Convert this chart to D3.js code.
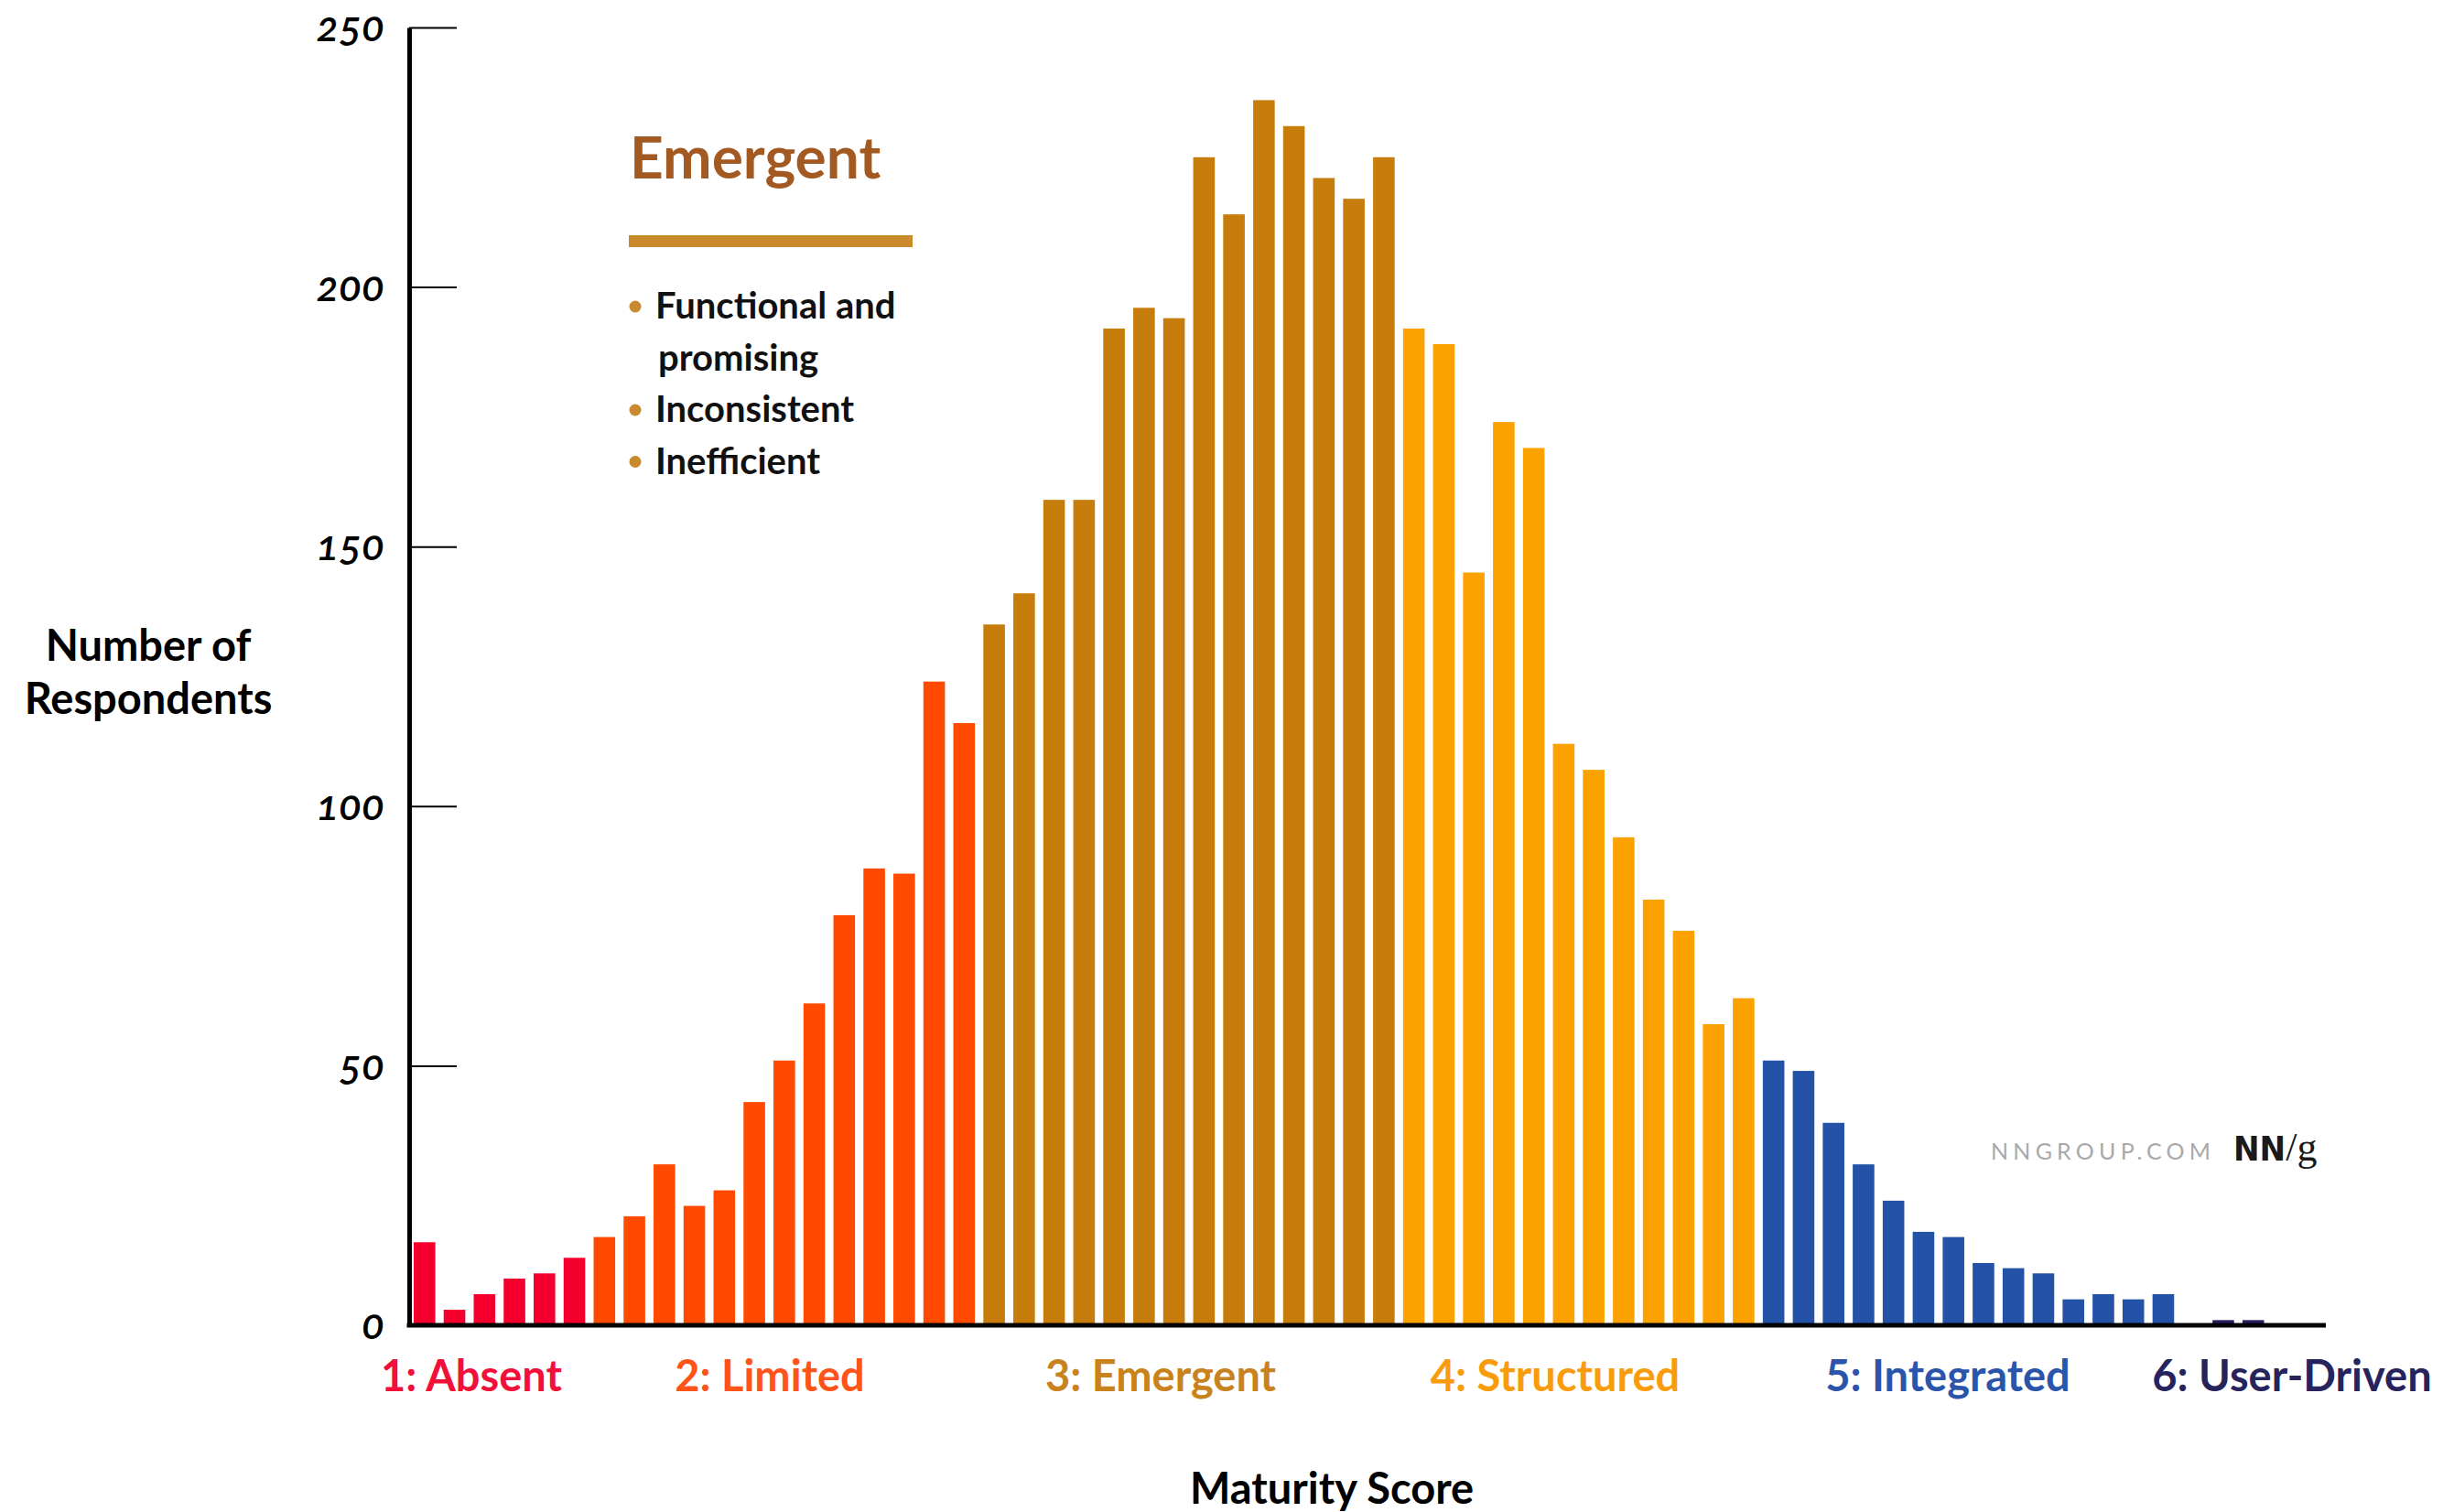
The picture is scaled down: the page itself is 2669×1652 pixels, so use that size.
<!DOCTYPE html>
<html>
<head>
<meta charset="utf-8">
<script src="https://cdn.jsdelivr.net/npm/d3@7"></script>
<style>
  html, body { margin: 0; padding: 0; background: #ffffff; }
  svg { display: block; }
</style>
</head>
<body>
<svg id="chart" width="2669" height="1652"></svg>
<script>
// ---------------- DATA ----------------
const values = [16, 3, 6, 9, 10, 13, 17, 21, 31, 23, 26, 43, 51, 62, 79, 88, 87, 124, 116,
  135, 141, 159, 159, 192, 196, 194, 225, 214, 236, 231, 221, 217, 225,
  192, 189, 145, 174, 169, 112, 107, 94, 82, 76, 58, 63,
  51, 49, 39, 31, 24, 18, 17, 12, 11, 10, 5, 6, 5, 6,
  0, 1, 1];
const levelNames = ["1: Absent", "2: Limited", "3: Emergent", "4: Structured", "5: Integrated", "6: User-Driven"];
const levelSizes = [6, 13, 14, 12, 14, 3];
const barColors = ["#f5002e", "#ff4a00", "#c67d0b", "#fba200", "#2352a6", "#241f5c"];
const labelColors = ["#f0103a", "#ff5419", "#c8831c", "#f99c0c", "#2a55ab", "#27235d"];
const yTicks = [0, 50, 100, 150, 200, 250];
const legendTitle = "Emergent";
const legendItems = [["Functional and", "promising"], ["Inconsistent"], ["Inefficient"]];

// ---------------- LAYOUT ----------------
const W = 2669, H = 1652;
const axisX = 447, axisY = 1448, topY = 30, axisEnd = 2541;
const labelCenters = [515, 841, 1268, 1699, 2128, 2504];
const FONT = "Lato, 'Open Sans', 'DejaVu Sans', sans-serif";

const svg = d3.select("#chart");

// level index per bar
const levelOfBar = [];
levelSizes.forEach((n, li) => { for (let k = 0; k < n; k++) levelOfBar.push(li); });
const bars = values.map((v, i) => ({ i, v, level: levelOfBar[i] }));

const x = d3.scaleBand()
  .domain(d3.range(values.length))
  .range([452, 2473.5])
  .paddingInner(0.28)
  .paddingOuter(0);

const y = d3.scaleLinear().domain([0, 250]).range([axisY, topY]);

// bars
svg.append("g").selectAll("rect")
  .data(bars)
  .join("rect")
  .attr("x", d => x(d.i))
  .attr("width", x.bandwidth())
  .attr("y", d => y(d.v))
  .attr("height", d => y(0) - y(d.v))
  .attr("fill", d => barColors[d.level]);

// y axis
const yAxis = d3.axisLeft(y)
  .tickValues(yTicks)
  .tickSizeInner(-52)
  .tickSizeOuter(0)
  .tickPadding(27)
  .tickFormat(d3.format("d"));

const gy = svg.append("g")
  .attr("transform", `translate(${axisX},0)`)
  .call(yAxis);
gy.select(".domain").attr("stroke", "#000").attr("stroke-width", 5);
gy.selectAll(".tick line").attr("stroke", "#000").attr("stroke-width", 2);
gy.selectAll(".tick text")
  .attr("fill", "#000")
  .style("font-family", FONT)
  .style("font-style", "italic")
  .style("font-weight", "600")
  .style("font-size", "46px")
  .style("font-variant-numeric", "oldstyle-nums")
  .style("font-feature-settings", "'onum' 1");

// x axis baseline
svg.append("line")
  .attr("x1", axisX - 2.5).attr("x2", axisEnd)
  .attr("y1", axisY).attr("y2", axisY)
  .attr("stroke", "#000").attr("stroke-width", 5);

// level labels
svg.append("g").selectAll("text")
  .data(levelNames)
  .join("text")
  .attr("x", (d, i) => labelCenters[i])
  .attr("y", 1520)
  .attr("text-anchor", "middle")
  .attr("fill", (d, i) => labelColors[i])
  .style("font-family", FONT)
  .style("font-weight", "700")
  .style("font-size", "47px")
  .text(d => d);

// x axis title
svg.append("text")
  .attr("x", 1455).attr("y", 1643)
  .attr("text-anchor", "middle")
  .attr("fill", "#000")
  .style("font-family", FONT)
  .style("font-weight", "700")
  .style("font-size", "47px")
  .text("Maturity Score");

// y axis title
const yt = svg.append("text")
  .attr("text-anchor", "middle")
  .attr("fill", "#000")
  .style("font-family", FONT)
  .style("font-weight", "700")
  .style("font-size", "47px");
yt.append("tspan").attr("x", 162).attr("y", 722).text("Number of");
yt.append("tspan").attr("x", 162).attr("y", 780).text("Respondents");

// legend
const lg = svg.append("g");
lg.append("text")
  .attr("x", 688).attr("y", 195)
  .attr("fill", "#a35a22")
  .style("font-family", FONT)
  .style("font-weight", "700")
  .style("font-size", "64px")
  .text(legendTitle);
lg.append("rect")
  .attr("x", 687).attr("y", 257)
  .attr("width", 310).attr("height", 13)
  .attr("fill", "#c98a2e");

let lineY = 348;
const lineStep = 56.5;
legendItems.forEach(item => {
  lg.append("circle")
    .attr("cx", 694).attr("cy", lineY - 13)
    .attr("r", 6.5)
    .attr("fill", "#c98a2e");
  item.forEach((line, k) => {
    lg.append("text")
      .attr("x", k === 0 ? 716 : 719)
      .attr("y", lineY)
      .attr("fill", "#111")
      .style("font-family", FONT)
      .style("font-weight", "700")
      .style("font-size", "40px")
      .text(line);
    lineY += lineStep;
  });
});

// watermark
svg.append("text")
  .attr("x", 2175).attr("y", 1267)
  .attr("fill", "#a9a9a9")
  .attr("textLength", 240)
  .attr("lengthAdjust", "spacing")
  .style("font-family", FONT)
  .style("font-size", "25px")
  .text("NNGROUP.COM");
const logo = svg.append("text")
  .attr("x", 2440).attr("y", 1268)
  .attr("fill", "#1a1a1a");
logo.append("tspan")
  .style("font-family", "'Liberation Sans Narrow', 'DejaVu Sans Condensed', 'Liberation Sans', sans-serif")
  .style("font-weight", "700")
  .style("font-size", "38px")
  .text("NN");
logo.append("tspan")
  .style("font-family", "'Liberation Serif', 'DejaVu Serif', serif")
  .style("font-size", "44px")
  .text("/g");
</script>
</body>
</html>
